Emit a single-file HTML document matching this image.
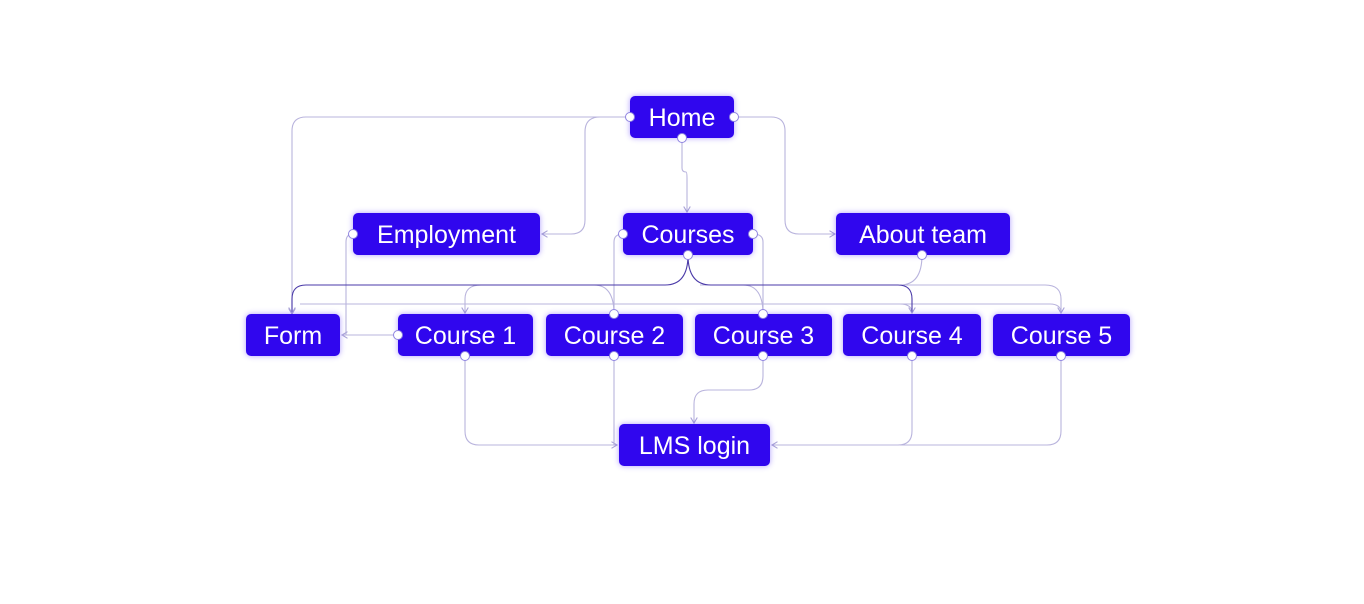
<!DOCTYPE html>
<html><head><meta charset="utf-8"><style>
body{margin:0;background:#fff;width:1364px;height:604px;overflow:hidden;position:relative;font-family:"Liberation Sans",sans-serif}
svg{position:absolute;left:0;top:0}
.n{position:absolute;height:42px;background:#3006ee;border-radius:5px;color:#fff;font-size:25px;line-height:44px;text-align:center;box-shadow:0 0 6px rgba(80,40,255,0.45)}
</style></head><body>
<svg width="1364" height="604">
<defs><marker id="a" markerWidth="8" markerHeight="8" refX="6" refY="4" orient="auto"><path d="M1,1 L6,4 L1,7" fill="none" stroke="#a9a3d6" stroke-width="1"/></marker></defs>
<g fill="none" stroke="#b9b4dd" stroke-width="1.1">
<path d="M630,117 H306 Q292,117 292,131 V314" marker-end="url(#a)"/>
<path d="M630,117 H600 Q585,117 585,132 V220 Q585,234 571,234 H542" marker-end="url(#a)"/>
<path d="M682,138 V168 Q682,172 686,172 Q687,172 687,178 V212" marker-end="url(#a)"/>
<path d="M734,117 H771 Q785,117 785,131 V220 Q785,234 799,234 H835" marker-end="url(#a)"/>
<path d="M353,234 Q346,234 346,242 V335 H342" marker-end="url(#a)"/>
<path d="M398,335 H342"/>
<path d="M623,234 Q614,234 614,242 V314"/>
<path d="M753,234 Q763,234 763,242 V314"/>
<path d="M922,255 Q922,285 900,285"/>
<path d="M614,314 Q614,285 594,285 H481 Q465,285 465,299 V313" marker-end="url(#a)"/>
<path d="M763,314 Q763,285 743,285 H700"/>
<path d="M900,285 H1045 Q1061,285 1061,299 V313" marker-end="url(#a)"/>
<path d="M300,304 H1050 Q1061,304 1061,313"/>
<path d="M900,304 Q912,304 912,313"/>
<path d="M465,356 V431 Q465,445 479,445 H617" marker-end="url(#a)"/>
<path d="M614,356 V445"/>
<path d="M763,356 V376 Q763,390 749,390 H708 Q694,390 694,404 V423" marker-end="url(#a)"/>
<path d="M912,356 V431 Q912,445 898,445 H772" marker-end="url(#a)"/>
<path d="M1061,356 V431 Q1061,445 1047,445 H900"/>
</g>
<g fill="none" stroke="#4a3aa8" stroke-width="1.1">
<path d="M688,255 Q688,285 665,285 H306 Q292,285 292,299 V313" marker-end="url(#a)"/>
<path d="M688,255 Q688,285 711,285 H898 Q912,285 912,299 V313" marker-end="url(#a)"/>
</g>
</svg>
<div class="n" style="left:630px;top:96px;width:104px">Home</div>
<div class="n" style="left:353px;top:213px;width:187px">Employment</div>
<div class="n" style="left:623px;top:213px;width:130px">Courses</div>
<div class="n" style="left:836px;top:213px;width:174px">About team</div>
<div class="n" style="left:246px;top:314px;width:94px">Form</div>
<div class="n" style="left:398px;top:314px;width:135px">Course 1</div>
<div class="n" style="left:546px;top:314px;width:137px">Course 2</div>
<div class="n" style="left:695px;top:314px;width:137px">Course 3</div>
<div class="n" style="left:843px;top:314px;width:138px">Course 4</div>
<div class="n" style="left:993px;top:314px;width:137px">Course 5</div>
<div class="n" style="left:619px;top:424px;width:151px">LMS login</div>
<svg width="1364" height="604"><g fill="#fff" stroke="#8f84e0" stroke-width="1">
<circle cx="630" cy="117" r="4.5"/><circle cx="734" cy="117" r="4.5"/><circle cx="682" cy="138" r="4.5"/>
<circle cx="353" cy="234" r="4.5"/><circle cx="623" cy="234" r="4.5"/><circle cx="753" cy="234" r="4.5"/>
<circle cx="688" cy="255" r="4.5"/><circle cx="922" cy="255" r="4.5"/>
<circle cx="398" cy="335" r="4.5"/><circle cx="614" cy="314" r="4.5"/><circle cx="763" cy="314" r="4.5"/>
<circle cx="465" cy="356" r="4.5"/><circle cx="614" cy="356" r="4.5"/><circle cx="763" cy="356" r="4.5"/>
<circle cx="912" cy="356" r="4.5"/><circle cx="1061" cy="356" r="4.5"/>
</g></svg>
</body></html>
